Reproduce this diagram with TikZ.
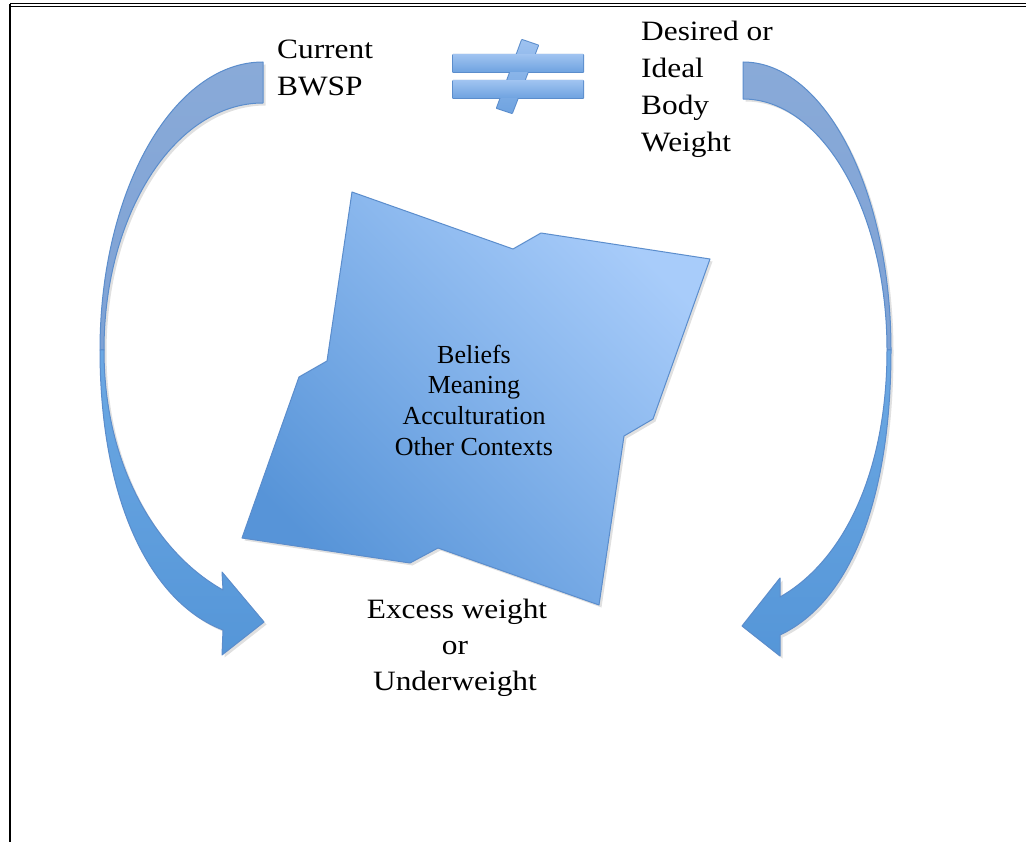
\documentclass[tikz,border=0pt]{standalone}
\usepackage{fontspec}
\setmainfont{Liberation Serif}
\newfontfamily\widefont[FakeStretch=1.12]{Liberation Serif}
\usetikzlibrary{shadows}
\definecolor{edgeblue}{HTML}{5B8DCC}
\definecolor{polydark}{HTML}{5794D8}
\definecolor{polylight}{HTML}{A8CCFA}
\definecolor{backblue}{HTML}{89AAD8}
\definecolor{backblue2}{HTML}{7EA2D5}
\definecolor{frontlight}{HTML}{6CA8E3}
\definecolor{frontdark}{HTML}{5596D8}
\definecolor{neqlight}{HTML}{9EC2F0}
\definecolor{neqdark}{HTML}{6FA3E0}
\tikzset{
  outertext/.style={font=\widefont\fontsize{28}{37}\selectfont, inner sep=0pt},
  innertext/.style={font=\fontsize{26}{31}\selectfont, inner sep=0pt, anchor=base},
  softshadow/.style={drop shadow={shadow xshift=2.5pt, shadow yshift=-2.5pt, opacity=0.12, fill=black}},
  backpart/.style={draw=edgeblue, line width=1pt, top color=backblue, bottom color=backblue2, line join=round},
  frontpart/.style={draw=edgeblue, line width=1pt, top color=frontlight, bottom color=frontdark, line join=round},
  neqfill/.style={top color=neqlight, bottom color=neqdark},
}
\begin{document}
\begin{tikzpicture}[x=1pt,y=-1pt]
\useasboundingbox (0,0) rectangle (1026,842);
\fill[white] (0,0) rectangle (1026,842);
% frame
\draw[line width=1pt] (10,4) -- (1026,4);
\draw[line width=1pt] (10,6.5) -- (1026,6.5);
\draw[line width=1.6pt] (10,842) -- (10,4);

% central polygon
\coordinate (p1) at (352,192);
\coordinate (p2) at (513,249);
\coordinate (p3) at (541,233);
\coordinate (p4) at (710,259);
\coordinate (p5) at (653,419);
\coordinate (p6) at (624,436);
\coordinate (p7) at (599,605);
\coordinate (p8) at (438,548);
\coordinate (p9) at (410,563);
\coordinate (p10) at (242,538);
\coordinate (p11) at (299,377);
\coordinate (p12) at (327,361);
\path[softshadow, draw=edgeblue, line width=1pt, line join=round,
  bottom color=polylight, top color=polydark, shading angle=135]
  (p1) -- (p2) -- (p3) -- (p4) -- (p5) -- (p6) -- (p7) -- (p8) -- (p9) -- (p10) -- (p11) -- (p12) -- cycle;

% left curved arrow
\coordinate (la) at (263,62);
\coordinate (lb) at (263,103);
\coordinate (lm) at (100,350);
\coordinate (ln) at (104,350);
\coordinate (lo) at (223,630);
\coordinate (lbl) at (222,655);
\coordinate (ltip) at (264,622);
\coordinate (lbu) at (222,572);
\coordinate (li) at (223,590);
\path[backpart, softshadow] (la) .. controls (173,62) and (100,191) .. (lm)
  -- (ln) .. controls (104,214) and (175,103) .. (lb) -- cycle;
\path[frontpart, softshadow] (lm) .. controls (100,500) and (150,602) .. (lo)
  -- (lbl) -- (ltip) -- (lbu) -- (li)
  .. controls (160,555) and (104,470) .. (ln) -- cycle;

% right curved arrow
\coordinate (ra) at (743,62);
\coordinate (rb) at (743,99);
\coordinate (rm) at (891,350);
\coordinate (rn) at (887,350);
\coordinate (ro) at (780,635);
\coordinate (rbl) at (780,656);
\coordinate (rtip) at (742,626);
\coordinate (rbu) at (780,578);
\coordinate (ri) at (780,597);
\path[backpart, softshadow] (ra) .. controls (825,62) and (891,191) .. (rm)
  -- (rn) .. controls (887,211) and (822,99) .. (rb) -- cycle;
\path[frontpart, softshadow] (rm) .. controls (891,500) and (850,602) .. (ro)
  -- (rbl) -- (rtip) -- (rbu) -- (ri)
  .. controls (845,560) and (887,470) .. (rn) -- cycle;

% not-equal sign (union outline: thick stroke below, fills on top)
\coordinate (s1) at (522,40);
\coordinate (s2) at (538,45.5);
\coordinate (s3) at (512,113);
\coordinate (s4) at (497,108);
\path[draw=edgeblue, line width=2pt, line join=round, fill=edgeblue]
  (453,55) rectangle (583,72)
  (453,81) rectangle (583,98)
  (s1) -- (s2) -- (s3) -- (s4) -- cycle;
\path[neqfill] (s1) -- (s2) -- (s3) -- (s4) -- cycle;
\path[neqfill] (453,55) rectangle (583,72);
\path[neqfill] (453,81) rectangle (583,98);

% texts
\node[outertext, anchor=base west] (cur1) at (277,59) {Current};
\node[outertext, anchor=base west] (cur2) at (277,96) {BWSP};

\node[outertext, anchor=base west] (des1) at (641,41) {Desired or};
\node[outertext, anchor=base west] (des2) at (641,78) {Ideal};
\node[outertext, anchor=base west] (des3) at (641,115) {Body};
\node[outertext, anchor=base west] (des4) at (641,152) {Weight};

\node[outertext, anchor=base] (ex1) at (457,618) {Excess weight};
\node[outertext, anchor=base] (ex2) at (455,654) {or};
\node[outertext, anchor=base] (ex3) at (455,690) {Underweight};

\node[innertext] (in1) at (474,363) {Beliefs};
\node[innertext] (in2) at (474,393.5) {Meaning};
\node[innertext] (in3) at (474,424.5) {Acculturation};
\node[innertext] (in4) at (474,455) {Other Contexts};
\end{tikzpicture}
\end{document}
